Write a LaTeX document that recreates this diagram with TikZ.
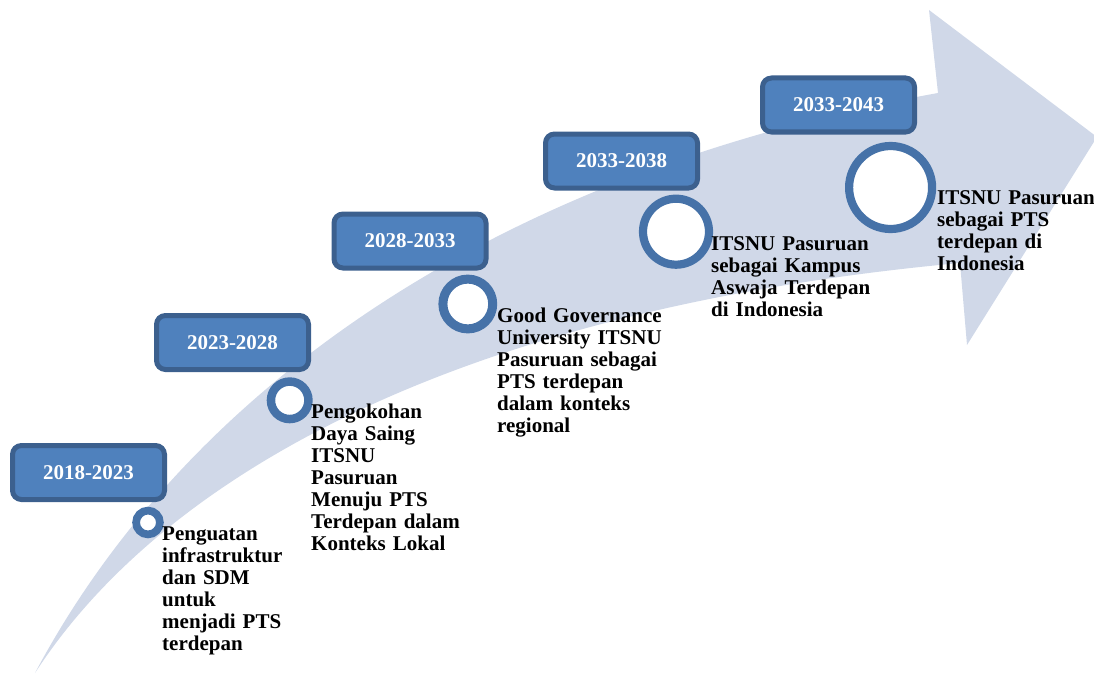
\documentclass[tikz,border=0pt]{standalone}
\usepackage{fontspec}
\setmainfont{Liberation Serif}
\definecolor{arrowfill}{HTML}{D0D8E8}
\definecolor{boxfill}{HTML}{4F81BD}
\definecolor{boxborder}{HTML}{3C608E}
\definecolor{ringblue}{HTML}{4672A8}
\begin{document}
\begin{tikzpicture}[x=1pt,y=-1pt,
  period/.style={draw=boxborder, fill=boxfill, line width=5pt, rounded corners=9pt,
    minimum width=152pt, minimum height=54pt, text=white, inner sep=0pt,
    font=\bfseries\fontsize{21}{22}\selectfont},
  ring/.style={circle, draw=ringblue, fill=white, inner sep=0pt},
  desc/.style={anchor=base west, inner sep=0pt, align=left, text width=200pt,
    font=\bfseries\fontsize{21}{22}\selectfont}]
\useasboundingbox (0,0) rectangle (1094,674);
\clip (0,0) rectangle (1094,674);
% curved arrow
\fill[arrowfill] (35,673) .. controls (160,480) and (450,310) .. (960,263)
  -- (967,345) -- (1097,137) -- (929,10) -- (938,93)
  .. controls (480,175) and (180,400) .. (35,673) -- cycle;
% period boxes
\node[period] (box1) at (88.5,472.5) {2018-2023};
\node[period] (box2) at (232.5,342.5) {2023-2028};
\node[period] (box3) at (410,241) {2028-2033};
\node[period] (box4) at (621.5,161) {2033-2038};
\node[period] (box5) at (838.5,105) {2033-2043};
% rings
\node[ring, line width=7.7pt, minimum size=23.8pt] (c1) at (148,522.5) {};
\node[ring, line width=8.5pt, minimum size=37.5pt] (c2) at (289.7,400.3) {};
\node[ring, line width=9pt, minimum size=49.8pt] (c3) at (467.8,304) {};
\node[ring, line width=8.2pt, minimum size=66pt] (c4) at (676,231.7) {};
\node[ring, line width=8.2pt, minimum size=83pt] (c5) at (890.6,187.5) {};
% descriptions
\node[desc] (t1) at (162,540) {Penguatan\\infrastruktur\\dan SDM\\untuk\\menjadi PTS\\terdepan};
\node[desc] (t2) at (311,418) {Pengokohan\\Daya Saing\\ITSNU\\Pasuruan\\Menuju PTS\\Terdepan dalam\\Konteks Lokal};
\node[desc] (t3) at (497,322) {Good Governance\\University ITSNU\\Pasuruan sebagai\\PTS terdepan\\dalam konteks\\regional};
\node[desc] (t4) at (711,250) {ITSNU Pasuruan\\sebagai Kampus\\Aswaja Terdepan\\di Indonesia};
\node[desc] (t5) at (937,204) {ITSNU Pasuruan\\sebagai PTS\\terdepan di\\Indonesia};
\end{tikzpicture}
\end{document}
